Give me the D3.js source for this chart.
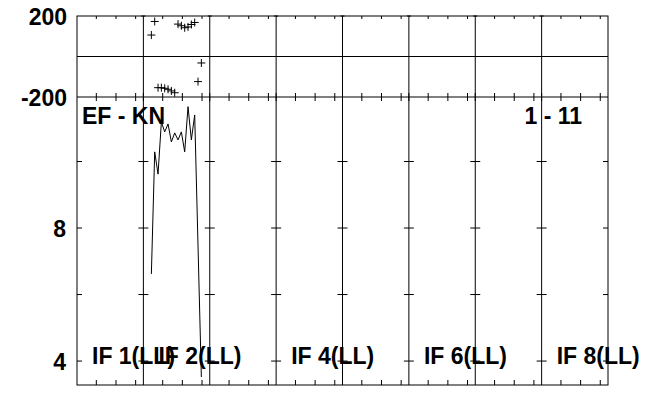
<!DOCTYPE html>
<html>
<head>
<meta charset="utf-8">
<script src="https://cdn.jsdelivr.net/npm/d3@7"></script>
<style>
  html, body { margin: 0; padding: 0; background: #fff; }
  svg text { font-family: "Liberation Sans", Arial, Helvetica, sans-serif; font-weight: bold; fill: #000; }
</style>
</head>
<body>
<svg id="chart" width="645" height="394"></svg>
<script>
// ---- data ----
const ifLabels = ["IF 1(LL)", "IF 2(LL)", "IF 4(LL)", "IF 6(LL)", "IF 8(LL)"];
const ifLabelPanels = [0, 1, 3, 5, 7];
const nPanels = 8;
const dataPanel = 1;                      // IF 2
const channels = [1, 2, 3, 4, 5, 6, 7, 8, 9, 10, 11, 12, 13, 14, 15, 16];
const amplitude = [6.62, 10.29, 9.62, 11.19, 10.89, 11.13, 10.59, 10.86, 10.65, 10.89, 10.29, 11.65, 10.65, 11.40, 7.46, 3.52];
const phase = [106, 173, -154, -154, -157, -162, -170, -179, 160, 152, 142, 146, 158, 168, -124, -32];
const phaseTickLabels = [200, -200];
const ampTicks = [4, 6, 8, 10];
const ampTickLabels = [4, 8];
const chanMinorTicks = [4.4, 10.3, 16.2];
const title = "EF - KN";
const rangeText = "1 - 11";

// ---- layout ----
const L = 77, R = 608, T = 16, MID = 97, B = 385;
const FS = 23;
const svg = d3.select("#chart");
const g = svg.append("g");

const panelX = d3.scaleLinear().domain([0, nPanels]).range([L, R]);
const chanFrac = d3.scaleLinear().domain([-1.4, 18.52]).range([0, 1]);
const xPos = (p, ch) => panelX(p + chanFrac(ch));
const yPh = d3.scaleLinear().domain([-200, 200]).range([MID, T]);
const yAmp = d3.scaleLinear().domain([3.28, 11.94]).range([B, MID]);

const line = (x1, y1, x2, y2, w = 1) =>
  g.append("line").attr("x1", x1).attr("y1", y1).attr("x2", x2).attr("y2", y2)
   .attr("stroke", "#000").attr("stroke-width", w);

// frame
g.append("rect").attr("x", L).attr("y", T).attr("width", R - L).attr("height", B - T)
  .attr("fill", "none").attr("stroke", "#000").attr("stroke-width", 1);
line(L, MID, R, MID);
line(L, yPh(0), R, yPh(0));

// panel dividers
d3.range(1, nPanels).forEach(p => line(panelX(p), T, panelX(p), B));

// minor channel ticks
d3.range(nPanels).forEach(p => {
  chanMinorTicks.forEach(c => {
    const x = xPos(p, c);
    line(x, T, x, T + 3);
    line(x, MID - 4, x, MID + 4);
    line(x, B - 5, x, B);
  });
});
d3.range(1, nPanels).forEach(p => {
  const x = panelX(p);
  line(x - 2, T, x + 2, T);
  line(x, MID - 4, x, MID + 4);
});

// amplitude ticks
ampTicks.forEach(v => {
  const y = yAmp(v);
  line(L, y, L + 5, y);
  line(R - 5, y, R, y);
  d3.range(1, nPanels).forEach(p => line(panelX(p) - 5, y, panelX(p) + 5, y));
});

// y labels
phaseTickLabels.forEach(v => {
  g.append("text").attr("x", 67).attr("y", yPh(v)).attr("dy", "0.38em")
    .attr("text-anchor", "end").attr("font-size", FS).text(v);
});
ampTickLabels.forEach(v => {
  g.append("text").attr("x", 66).attr("y", yAmp(v)).attr("dy", "0.38em")
    .attr("text-anchor", "end").attr("font-size", FS).text(v);
});

// amplitude line
const ampLine = d3.line()
  .x((d, i) => xPos(dataPanel, channels[i]))
  .y(d => yAmp(d));
g.append("path").datum(amplitude).attr("d", ampLine)
  .attr("fill", "none").attr("stroke", "#000").attr("stroke-width", 1);

// phase markers
phase.forEach((v, i) => {
  const x = xPos(dataPanel, channels[i]), y = yPh(v);
  g.append("path").attr("d", `M${x - 4},${y}H${x + 4}M${x},${y - 4}V${y + 4}`)
    .attr("stroke", "#000").attr("stroke-width", 1).attr("fill", "none");
});

// texts
g.append("text").attr("x", L + 5).attr("y", 124).attr("font-size", FS).text(title);
g.append("text").attr("x", 582).attr("y", 124).attr("text-anchor", "end").attr("font-size", FS).text(rangeText);
ifLabels.forEach((t, i) => {
  g.append("text").attr("x", panelX(ifLabelPanels[i]) + 15).attr("y", 364)
    .attr("font-size", FS).text(t);
});
</script>
</body>
</html>
